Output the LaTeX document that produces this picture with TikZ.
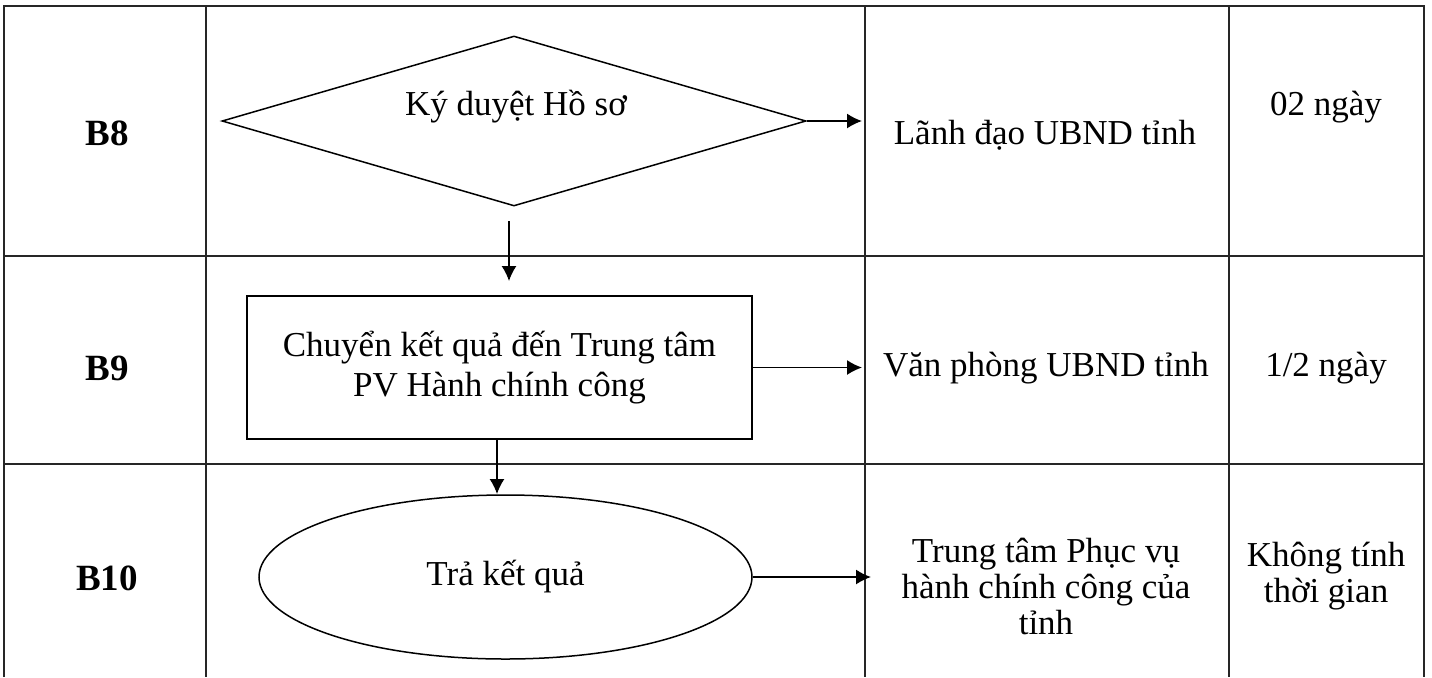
\documentclass[tikz,border=0pt]{standalone}
\usepackage{fontspec}
\setmainfont{Liberation Serif}
\usetikzlibrary{arrows.meta, shapes.geometric, positioning}

\begin{document}
\begin{tikzpicture}[x=0.5pt,y=-0.5pt,>={Latex[length=7.5pt,width=7.5pt]},line width=0.75pt,
	font=\fontsize{17.5}{18}\selectfont]
	
	\tikzset{grid line/.style={draw=black!85}}
	\tikzset{step lbl/.style={font=\fontsize{18.5}{19}\selectfont\bfseries}}
	\tikzset{cell txt/.style={align=center,inner sep=0pt}}
	\tikzset{flow/.style={->,line width=0.75pt}}
	
	\useasboundingbox (0,0) rectangle (1432,677);
	
	% table
	\draw[grid line] (4,677) -- (4,6) -- (1424,6) -- (1424,677);
	\foreach \cx in {206,865,1229}
	\draw[grid line] (\cx,6) -- (\cx,677);
	\foreach \ry in {256,464}
	\draw[grid line] (4,\ry) -- (1424,\ry);
	
	% step names
	\node[step lbl] (b8) at (107,133) {B8};
	\node[step lbl] (b9) at (107,368) {B9};
	\node[step lbl] (b10) at (107,578) {B10};
	
	% flow shapes
	\node[diamond, draw, minimum width=292pt, minimum height=85pt, inner sep=0pt] (sign) at (514,121) {};
	\node[cell txt] (signtxt) at (516,107) {Ký duyệt Hồ sơ};
	\node[rectangle, draw, minimum width=252.5pt, minimum height=71.5pt, cell txt,
	font=\fontsize{17.5}{20}\selectfont] (send) at (499.5,367.5)
	{Chuyển kết quả đến Trung tâm\\PV Hành chính công};
	\node[ellipse, draw, minimum width=246.5pt, minimum height=82pt, inner sep=0pt] (ret) at (505.5,577) {Trả kết quả};
	
	% who
	\node[cell txt] (lead) at (1045,135) {Lãnh đạo UBND tỉnh};
	\node[cell txt] (office) at (1046,368) {Văn phòng UBND tỉnh};
	\node[cell txt] (center) at (1046,586) {Trung tâm Phục vụ\\hành chính công của\\tỉnh};
	
	% time
	\node[cell txt] (t8) at (1326,107) {02 ngày};
	\node[cell txt] (t9) at (1326,368) {1/2 ngày};
	\node[cell txt] (t10) at (1326,576) {Không tính\\thời gian};
	
	% arrows
	\coordinate (e8) at (862,121);
	\coordinate (e9) at (862,367.5);
	\coordinate (e10) at (871,577);
	\coordinate (d1) at (509,221);
	\coordinate (d2) at (509,281);
	\coordinate (s1) at (497,439);
	\coordinate (s2) at (497,494);
	
	\draw[flow] (sign.east) -- (e8);
	\draw[flow] (d1) -- (d2);
	\draw[flow] (send.east) -- (e9);
	\draw[flow] (s1) -- (s2);
	\draw[flow] (ret.east) -- (e10);
\end{tikzpicture}
\end{document}
